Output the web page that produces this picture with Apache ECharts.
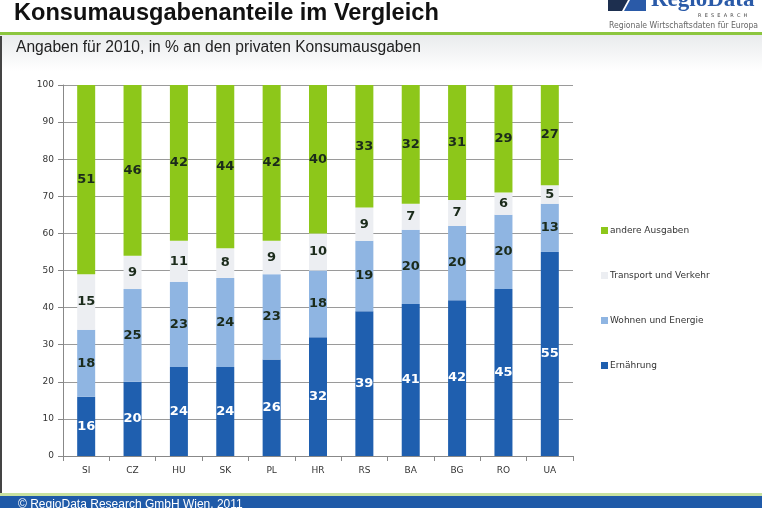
<!DOCTYPE html>
<html>
<head>
<meta charset="utf-8">
<script src="https://cdn.jsdelivr.net/npm/echarts@6/dist/echarts.min.js"></script>
<style>
  html, body { margin: 0; padding: 0; background: #fff; }
  #chart { width: 762px; height: 508px; }
</style>
</head>
<body>
<div id="chart"></div>
<script>
var categories = ['SI', 'CZ', 'HU', 'SK', 'PL', 'HR', 'RS', 'BA', 'BG', 'RO', 'UA'];
var ernaehrung = [16, 20, 24, 24, 26, 32, 39, 41, 42, 45, 55];
var wohnen = [18, 25, 23, 24, 23, 18, 19, 20, 20, 20, 13];
var transport = [15, 9, 11, 8, 9, 10, 9, 7, 7, 6, 5];
var andere = [51, 46, 42, 44, 42, 40, 33, 32, 31, 29, 27];
var yTicks = [0, 10, 20, 30, 40, 50, 60, 70, 80, 90, 100];

var myChart = echarts.init(document.getElementById('chart'));

function bar(name, data, color, labelColor) {
    return {
        name: name,
        type: 'bar',
        stack: 'total',
        barWidth: 18,
        data: data,
        itemStyle: { color: color },
        label: {
            show: true,
            color: labelColor,
            fontFamily: 'DejaVu Sans',
            fontWeight: 'bold',
            fontSize: 13
        }
    };
}

var option = {
    animation: false,
    backgroundColor: '#fff',
    textStyle: { fontFamily: 'Liberation Sans' },
    grid: { left: 63, right: 189, top: 85, bottom: 52 },
    legend: {
        orient: 'vertical',
        left: 596,
        top: 221,
        itemWidth: 7,
        itemHeight: 7,
        itemGap: 36,
        icon: 'rect',
        data: ['andere Ausgaben', 'Transport und Verkehr', 'Wohnen und Energie', 'Ernährung'],
        textStyle: { fontSize: 9, color: '#333', fontFamily: 'DejaVu Sans', padding: [0, 0, 0, -3] }
    },
    xAxis: {
        type: 'category',
        data: categories,
        axisLine: { lineStyle: { color: '#888' } },
        axisTick: { show: true, length: 5, lineStyle: { color: '#888' } },
        axisLabel: { fontSize: 9, color: '#333', margin: 10, fontFamily: 'DejaVu Sans' }
    },
    yAxis: {
        type: 'value',
        min: yTicks[0],
        max: yTicks[yTicks.length - 1],
        interval: 10,
        axisLine: { show: true, lineStyle: { color: '#888' } },
        axisTick: { show: true, length: 5, lineStyle: { color: '#888' } },
        axisLabel: { fontSize: 9, color: '#333', margin: 9, fontFamily: 'DejaVu Sans' },
        splitLine: { lineStyle: { color: '#9a9a9a' } }
    },
    series: [
        bar('Ernährung', ernaehrung, '#1f5faf', '#fff'),
        bar('Wohnen und Energie', wohnen, '#8fb5e2', '#1b2b1b'),
        bar('Transport und Verkehr', transport, '#eceef2', '#1b2b1b'),
        bar('andere Ausgaben', andere, '#8dc71a', '#1b2b1b')
    ],
    graphic: [
        { type: 'rect', shape: { x: 0, y: 35, width: 762, height: 36 },
          style: { fill: new echarts.graphic.LinearGradient(0, 0, 0, 1, [
              { offset: 0, color: '#e9ebed' }, { offset: 1, color: '#ffffff' }]) }, z: -1 },
        { type: 'rect', shape: { x: 0, y: 32, width: 762, height: 3 }, style: { fill: '#8cc63f' } },
        { type: 'rect', shape: { x: 0, y: 36, width: 2, height: 460 }, style: { fill: '#444' } },
        { type: 'text', left: 14, top: 1,
          style: { text: 'Konsumausgabenanteile im Vergleich', fontSize: 23.6, fontWeight: 'bold',
                   fill: '#111', fontFamily: 'Liberation Sans' } },
        { type: 'text', left: 16, top: 40,
          style: { text: 'Angaben für 2010, in % an den privaten Konsumausgaben', fontSize: 15.6,
                   fill: '#222', fontFamily: 'Liberation Sans' } },
        { type: 'polygon', shape: { points: [[608, 0], [628, 0], [622, 11], [608, 11]] },
          style: { fill: '#1d2f4f' } },
        { type: 'polygon', shape: { points: [[630, 0], [646, 0], [646, 11], [624, 11]] },
          style: { fill: '#2a5aa8' } },
        { type: 'text', left: 651, top: -11,
          style: { text: 'RegioData', fontSize: 23, fontWeight: 'bold', fill: '#2a5aa8',
                   fontFamily: 'Liberation Serif' } },
        { type: 'text', left: 698, top: 13,
          style: { text: 'R  E  S  E  A  R  C  H', fontSize: 5, fill: '#444', fontFamily: 'DejaVu Sans' } },
        { type: 'text', left: 609, top: 21,
          style: { text: 'Regionale Wirtschaftsdaten für Europa', fontSize: 8.6,
                   fill: '#666', fontFamily: "'DejaVu Sans Condensed', 'Liberation Sans'" } },
        { type: 'rect', shape: { x: 0, y: 493, width: 762, height: 3 }, style: { fill: '#c9e2a0' } },
        { type: 'rect', shape: { x: 0, y: 496, width: 762, height: 12 }, style: { fill: '#1f5aa8' } },
        { type: 'text', left: 18, top: 499,
          style: { text: '© RegioData Research GmbH Wien, 2011', fontSize: 12, fill: '#fff',
                   fontFamily: 'Liberation Sans' } }
    ]
};

myChart.setOption(option, true);
</script>
</body>
</html>
